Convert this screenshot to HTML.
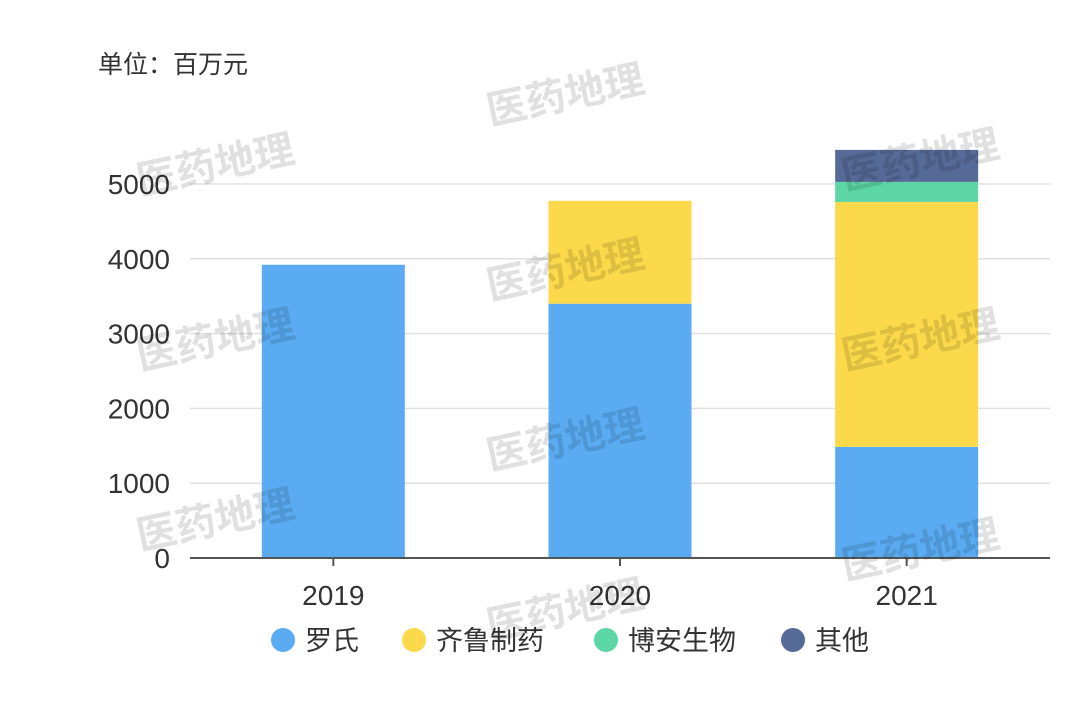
<!DOCTYPE html>
<html><head><meta charset="utf-8">
<style>
html,body{margin:0;padding:0;background:#fff;}
svg text{font-family:"Liberation Sans","Noto Sans CJK SC",sans-serif;}
</style></head>
<body>
<svg id="chart" width="1080" height="720" viewBox="0 0 1080 720" xmlns="http://www.w3.org/2000/svg">
<text x="98" y="73" font-size="25" fill="#333">单位：百万元</text>
<g id="grid"></g>
<g id="bars"></g>
<g id="axes"></g>
<g id="legend"></g>
<g id="watermarks"></g>
</svg>
<script>
const categories = ["2019","2020","2021"];
const seriesNames = ["罗氏","齐鲁制药","博安生物","其他"];
const seriesColors = ["#5aabf2","#fcd94a","#5dd6a6","#566a98"];
const roche = [3920, 3400, 1485];
const qilu = [0, 1375, 3275];
const boan = [0, 0, 268];
const others = [0, 0, 428];
const yTicks = [0,1000,2000,3000,4000,5000];
const series = [roche, qilu, boan, others];

const NS="http://www.w3.org/2000/svg";
const x0=190, x1=1050, y0=558, yTop=184, yMaxTick=5000;
const band=(x1-x0)/categories.length, barW=143;
function y(v){return y0-(v/yMaxTick)*(y0-yTop);}
function xc(i){return x0+band*(i+0.5);}
function mk(tag,attrs,parent){const e=document.createElementNS(NS,tag);for(const k in attrs)e.setAttribute(k,attrs[k]);parent.appendChild(e);return e;}
const grid=document.getElementById('grid'), bars=document.getElementById('bars'), axes=document.getElementById('axes'), legend=document.getElementById('legend'), wm=document.getElementById('watermarks');

yTicks.forEach(t=>{
  if(t>0){const l=mk('line',{x1:x0,x2:x1,y1:y(t),y2:y(t),stroke:'#e0e0e0','stroke-width':1.5},grid);
  
  }
  const tx=mk('text',{x:170,y:y(t)+10,'font-size':28,'text-anchor':'end',fill:'#333'},axes);
  tx.textContent=t;
  
  
});
const ax=mk('line',{x1:x0,x2:x1,y1:y0,y2:y0,stroke:'#555','stroke-width':2},axes);



categories.forEach((c,i)=>{
  const cx=xc(i);
  let base=0;
  series.forEach((s,si)=>{
    const v=s[i]; if(!v) return;
    const r=mk('rect',{x:cx-barW/2,y:y(base+v),width:barW,height:y(base)-y(base+v),fill:seriesColors[si]},bars);
    
    
    base+=v;
  });
  const tk=mk('line',{x1:cx,x2:cx,y1:y0,y2:y0+8,stroke:'#555','stroke-width':2},axes);
  
  
  const t=mk('text',{x:cx,y:605,'font-size':28,'text-anchor':'middle',fill:'#333'},axes);
  t.textContent=c;
  
  
});

const legX=[283,414,606,793];
seriesNames.forEach((n,i)=>{
  const g=mk('g',{},legend);
  
  
  mk('circle',{cx:legX[i],cy:640,r:12,fill:seriesColors[i]},g);
  const t=mk('text',{x:legX[i]+22,y:650,'font-size':27,fill:'#333'},g);
  t.textContent=n;
});

[[140,195],[490,125],[490,300],[140,370],[845,190],[845,370],[490,470],[140,550],[845,580],[490,640]].forEach((p,i)=>{
  const t=mk('text',{x:p[0],y:p[1],'font-size':40,'font-weight':'bold',fill:'#000','fill-opacity':0.12,transform:'rotate(-12 '+p[0]+' '+p[1]+')'},wm);
  t.textContent='医药地理';
  
  
});
</script>
</body></html>
